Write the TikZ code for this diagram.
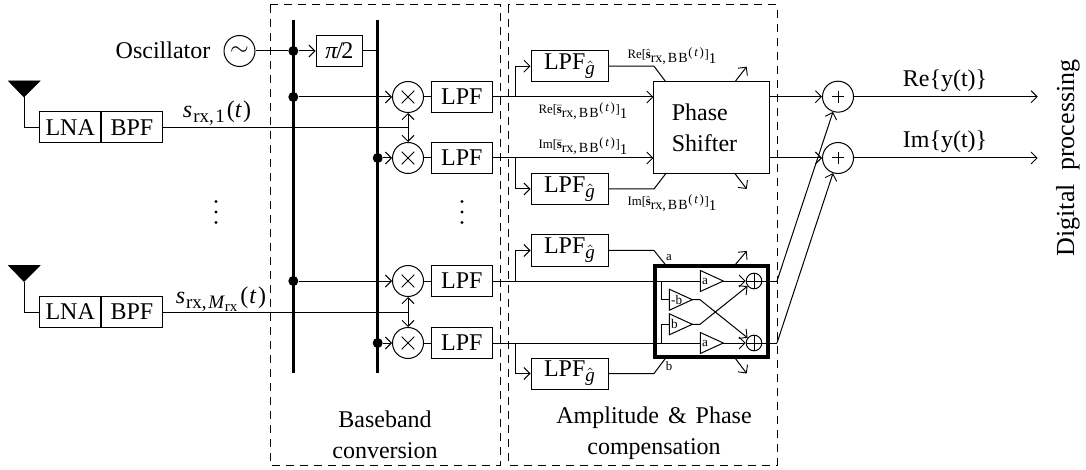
\documentclass[tikz,border=0pt]{standalone}
\usepackage{amsmath}
\usepackage{fontspec}
\setmainfont{Liberation Serif}
\usetikzlibrary{arrows.meta,calc}
\newcommand{\subx}[1]{\raisebox{-2.5pt}{\fontsize{9.5}{10}\selectfont #1}}
\newcommand{\subxx}[1]{\raisebox{-1.5pt}{\fontsize{7.5}{8}\selectfont #1}}
\newcommand{\ghat}{\subx{$\hat{\text{\itshape g}}$}}
\newcommand{\smalllab}[2]{#1[\kern-.2pt$#2{\text{\bfseries s}}$\raisebox{-2pt}{\fontsize{7}{8}\selectfont rx,\kern1pt B\kern.5pt B}\kern.4pt\raisebox{1pt}{(\kern.8pt\textit{t}\kern.8pt)}\kern.3pt]\raisebox{-2.6pt}{\fontsize{7.5}{8}\selectfont 1}}
\tikzset{
  thin line/.style={line width=0.5pt},
  arr/.style={line width=0.5pt,-{Straight Barb[length=3pt,width=6pt,line width=0.45pt]}},
  biarr/.style={line width=0.5pt,{Straight Barb[length=3pt,width=6pt,line width=0.45pt]}-{Straight Barb[length=3pt,width=6pt,line width=0.45pt]}},
  bar/.style={line width=1.5pt},
  dashbox/.style={line width=0.5pt,dash pattern=on 4pt off 3pt},
  blockbox/.style={draw,line width=0.5pt,fill=white,inner sep=0pt,minimum height=15.5pt,font=\fontsize{12}{14}\selectfont},
  lpf/.style={blockbox,minimum width=30.8pt},
  lpfg/.style={blockbox,minimum width=38.5pt},
  rfbox/.style={blockbox,minimum width=30.7pt},
  opcirc/.style={draw,circle,line width=0.5pt,fill=white,inner sep=0pt,minimum size=15.5pt,font=\fontsize{12}{14}\selectfont},
  sumcirc/.style={draw,circle,line width=0.5pt,inner sep=0pt,minimum size=7.8pt},
  junction/.style={circle,fill=black,inner sep=0pt,minimum size=5pt},
  lab/.style={inner sep=0pt,font=\fontsize{12}{14}\selectfont},
  slab/.style={inner sep=0pt,font=\fontsize{6.4}{7.5}\selectfont},
  dotmark/.style={circle,fill=black,inner sep=0pt,minimum size=1.6pt},
  antenna/.style={fill=black,draw=black,line width=0.3pt}
}
\newcommand{\amp}[4]{%
  \draw[line width=0.5pt] (#2,#3-10.5) -- (#2+23,#3) -- (#2,#3+10.5) -- cycle;
  \coordinate (#1in) at (#2,#3);
  \coordinate (#1out) at (#2+23,#3);
  \node[inner sep=0pt,font=\fontsize{6.6}{8}\selectfont,anchor=west] (#1lab) at (#2+1.5,#3) {#4};
}
\newcommand{\crossmark}[1]{%
  \draw[line width=0.5pt] ($(#1)+(-6.3,-6.3)$) -- ($(#1)+(6.3,6.3)$) ($(#1)+(-6.3,6.3)$) -- ($(#1)+(6.3,-6.3)$);
}
\newcommand{\plusmark}[2]{%
  \draw[line width=0.5pt] ($(#1)+(-#2,0)$) -- ($(#1)+(#2,0)$) ($(#1)+(0,-#2)$) -- ($(#1)+(0,#2)$);
}
\begin{document}
\begin{tikzpicture}[x=0.5pt,y=-0.5pt]
\useasboundingbox (0,0) rectangle (1086,470);
% dashed groups
\draw[dashbox] (270,5) rectangle (500,465);
\draw[dashbox] (508,5) rectangle (777,465);
% bars
\coordinate (barAtop) at (293.3,20); \coordinate (barAbot) at (293.3,373);
\coordinate (barBtop) at (377.7,20); \coordinate (barBbot) at (377.7,373);
% coordinates
\node[junction] (j1) at (293.3,51) {};
\node[junction] (j2) at (293.3,97) {};
\node[junction] (j3) at (293.3,281) {};
\node[junction] (j4) at (377.7,158) {};
\node[junction] (j5) at (377.7,343) {};
\coordinate (jb) at (377.7,51);
% oscillator
\node[opcirc] (osc) at (239.5,51) {$\sim$};
\node[lab] (osclab) at (163,50) {Oscillator};
\node[blockbox,minimum width=23.4pt] (pi) at (339.4,51) {\textit{π}\kern-.8pt/\kern-.8pt2};
% antennas and front ends
\foreach \n/\y in {A/127.5,B/312}{
  \node[rfbox] (lna\n) at (70.2,\y) {LNA};
  \node[rfbox] (bpf\n) at (131.9,\y) {BPF};
  \coordinate (ant\n) at (24,\y-30.5);
  \coordinate (fold\n) at (24,\y);
  \coordinate (tee\n) at (408,\y);
  \draw[antenna] (8.5,\y-46.5) -- (40,\y-46.5) -- (ant\n) -- cycle;
  \draw[thin line] (ant\n) -- (fold\n) -- (lna\n.west);
  \draw[thin line] (bpf\n.east) -- (tee\n);
}
% mixers and low-pass filters
\foreach \n/\y in {A/97,B/158,C/281,D/343}{
  \node[opcirc] (mix\n) at (408,\y) {};
  \crossmark{mix\n}
  \node[lpf] (lpf\n) at (461.8,\y) {LPF};
  \draw[thin line] (mix\n) -- (lpf\n);
}
\draw[bar] (barAtop) -- (barAbot);
\draw[bar] (barBtop) -- (barBbot);
\draw[thin line] (osc) -- (j1);
\draw[arr] (j1) -- (pi);
\draw[thin line] (pi) -- (jb);
\draw[arr] (j2) -- (mixA);
\draw[arr] (j3) -- (mixC);
\draw[arr] (j4) -- (mixB);
\draw[arr] (j5) -- (mixD);
\draw[biarr] (mixA) -- (mixB);
\draw[biarr] (mixC) -- (mixD);
\node[lab,anchor=base] (s1) at (217,117.7) {\textit{s}\kern.5pt\subx{rx,\kern.8pt1}\kern1pt(\textit{t}\kern.5pt)};
\node[lab,anchor=base] (s2) at (221,303) {\textit{s}\kern.5pt\subx{rx,\kern.8pt\textit{M}\subxx{rx}}\kern1.5pt(\kern.5pt\textit{t}\kern.8pt)};
% vdots
\foreach \n/\x in {L/216,R/462}{
  \node[dotmark] (d\n a) at (\x,201.5) {};
  \node[dotmark] (d\n b) at (\x,212) {};
  \node[dotmark] (d\n c) at (\x,222.5) {};
}
\node[lab,align=center] (bbtxt) at (385,435) {Baseband\\[1.5pt]conversion};
\node[lab,align=center] (aptxt) at (654,433.5) {Amplitude\hspace{1.5pt} \&\hspace{1.5pt} Phase\\[1.5pt]compensation};
% phase-shifter branch
\node[lpfg] (gA) at (569.5,66.2) {LPF\ghat};
\node[lpfg] (gB) at (569.5,189) {LPF\ghat};
\node[draw,line width=0.5pt,fill=white,inner sep=0pt,minimum width=57.7pt,minimum height=46pt] (ps) at (711.6,127.7) {};
\node[lab,align=left] (pstxt) at (704.5,128) {Phase\\[1.5pt]Shifter};
\coordinate (brA) at (515.7,97);
\coordinate (brB) at (515.7,158);
\draw[arr] (lpfA) -- (lpfA -| ps.west);
\draw[arr] (lpfB) -- (lpfB -| ps.west);
\draw[arr] (brA) |- (gA);
\draw[arr] (brB) |- (gB);
\coordinate (kA) at (654,66.2); \coordinate (kAe) at (665.7,81.7);
\coordinate (kB) at (654,189); \coordinate (kBe) at (665.7,173.7);
\draw[thin line] (gA) -- (kA) -- (kAe);
\draw[thin line] (gB) -- (kB) -- (kBe);
\coordinate (outA0) at (735,81.7); \coordinate (outA1) at (746.7,66.7);
\coordinate (outB0) at (735,173.7); \coordinate (outB1) at (746.7,189);
\draw[arr] (outA0) -- (outA1);
\draw[arr] (outB0) -- (outB1);
\node[slab] (l1) at (672,56) {\smalllab{Re}{\hat}};
\node[slab] (l2) at (583,111) {\smalllab{Re}{\bar}};
\node[slab] (l3) at (583,146.5) {\smalllab{Im}{\bar}};
\node[slab] (l4) at (672,203) {\smalllab{Im}{\hat}};
% amplitude-and-phase branch
\node[lpfg] (gC) at (569.5,250.5) {LPF\ghat};
\node[lpfg] (gD) at (569.5,373.5) {LPF\ghat};
\node[draw,line width=2pt,inner sep=0pt,minimum width=56.7pt,minimum height=45.5pt] (apb) at (711.6,311.5) {};
\coordinate (brC) at (515.7,281);
\coordinate (brD) at (515.7,343);
\draw[arr] (brC) |- (gC);
\draw[arr] (brD) |- (gD);
\coordinate (kC) at (654,250.5); \coordinate (kCe) at (665.7,265);
\coordinate (kD) at (654,373.5); \coordinate (kDe) at (665.7,358);
\draw[thin line] (gC) -- (kC) -- (kCe);
\draw[thin line] (gD) -- (kD) -- (kDe);
\coordinate (outC0) at (735,265); \coordinate (outC1) at (746.7,251);
\coordinate (outD0) at (735,358); \coordinate (outD1) at (746.7,373.5);
\draw[arr] (outC0) -- (outC1);
\draw[arr] (outD0) -- (outD1);
\node[slab] (la) at (669,258) {a};
\node[slab] (lb) at (669,366) {b};
\amp{ua}{700.3}{281}{a}
\amp{la}{700.3}{343}{a}
\amp{mb}{669.3}{299.7}{-b}
\amp{pb}{669.3}{324.3}{b}
\node[sumcirc] (sumU) at (754,281) {};
\node[sumcirc] (sumL) at (754,343) {};
\plusmark{sumU}{7.7}
\plusmark{sumL}{7.7}
\draw[thin line] (lpfC) -- (uain);
\draw[thin line] (lpfD) -- (lain);
\draw[arr] (uaout) -- (sumU);
\draw[arr] (laout) -- (sumL);
\coordinate (tapU) at (661.3,281); \coordinate (tapL) at (661.3,343);
\draw[thin line] (tapU) |- (mbin);
\draw[thin line] (tapL) |- (pbin);
\coordinate (mbk) at (700,299.7); \coordinate (pbk) at (700,324.3);
\draw[arr] (mbout) -- (mbk) -- (sumL);
\draw[arr] (pbout) -- (pbk) -- (sumU);
% output combiners
\node[opcirc] (plusRe) at (838,96.7) {};
\node[opcirc] (plusIm) at (838,158) {};
\plusmark{plusRe}{6}
\plusmark{plusIm}{6}
\coordinate (fU) at (777,281); \coordinate (fL) at (777,343);
\draw[thin line] (sumU) -- (fU);
\draw[thin line] (sumL) -- (fL);
\draw[arr] (fU) -- (plusRe);
\draw[arr] (fL) -- (plusIm);
\draw[arr] (ps.east |- plusRe) -- (plusRe);
\draw[arr] (ps.east |- plusIm) -- (plusIm);
\coordinate (endRe) at (1037.7,96.7);
\coordinate (endIm) at (1037.7,158);
\draw[arr] (plusRe) -- (endRe);
\draw[arr] (plusIm) -- (endIm);
\node[lab] (tRe) at (945,81) {Re\{y(t)\}};
\node[lab] (tIm) at (945,142) {Im\{y(t)\}};
\node[lab,rotate=90,font=\fontsize{13}{15}\selectfont] (dp) at (1068,158) {Digital\hspace{3.5pt} processing};
\end{tikzpicture}
\end{document}
